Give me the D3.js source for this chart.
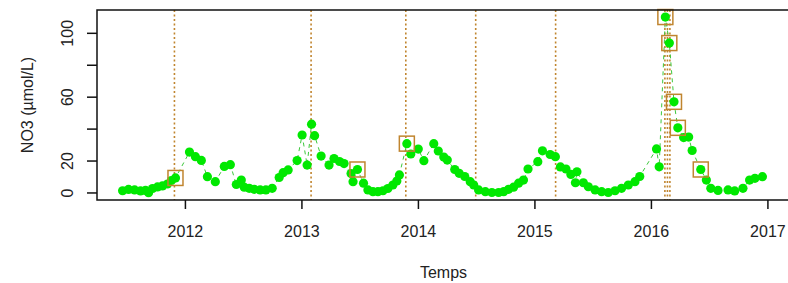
<!DOCTYPE html>
<html>
<head>
<meta charset="utf-8">
<script src="https://cdn.jsdelivr.net/npm/d3@7"></script>
<style>
    body { margin: 0; background: #fff; }
    svg { display: block; font-family: "Liberation Sans", Arial, sans-serif; }
</style>
</head>
<body>
<div id="chart"></div>
<script>
// sampling dates (decimal years) and NO3 values
const dates = [
    2011.465, 2011.516, 2011.568, 2011.619, 2011.662, 2011.688, 2011.722, 2011.765, 2011.807, 2011.850,
    2011.884, 2011.919, 2012.039, 2012.090, 2012.141, 2012.193, 2012.261, 2012.338, 2012.390, 2012.441,
    2012.484, 2012.509, 2012.552, 2012.595, 2012.646, 2012.695, 2012.749, 2012.809, 2012.843, 2012.886,
    2012.963, 2013.006, 2013.049, 2013.087, 2013.113, 2013.169, 2013.237, 2013.280, 2013.327, 2013.366,
    2013.426, 2013.443, 2013.481, 2013.533, 2013.571, 2013.614, 2013.657, 2013.700, 2013.742, 2013.785,
    2013.819, 2013.841, 2013.905, 2013.939, 2014.003, 2014.051, 2014.136, 2014.175, 2014.222, 2014.252,
    2014.316, 2014.354, 2014.402, 2014.449, 2014.479, 2014.521, 2014.579, 2014.635, 2014.693, 2014.736,
    2014.778, 2014.821, 2014.864, 2014.906, 2014.945, 2015.029, 2015.069, 2015.135, 2015.180, 2015.223,
    2015.271, 2015.313, 2015.352, 2015.365, 2015.420, 2015.463, 2015.521, 2015.577, 2015.634, 2015.692,
    2015.748, 2015.806, 2015.863, 2015.904, 2016.048, 2016.071, 2016.124, 2016.158, 2016.198, 2016.231,
    2016.281, 2016.324, 2016.354, 2016.428, 2016.476, 2016.514, 2016.576, 2016.662, 2016.719, 2016.790,
    2016.847, 2016.893, 2016.957
];
const no3 = [
    1.4, 2.2, 1.9, 1.3, 1.6, 0.2, 2.8, 3.8, 4.4, 5.6,
    7.8, 9.4, 25.6, 22.7, 20.4, 10.2, 7.1, 16.6, 17.7, 5.3,
    8.1, 3.6, 2.9, 2.3, 1.9, 1.9, 2.9, 9.7, 12.7, 14.4,
    20.3, 36.3, 17.5, 43.1, 35.9, 23.1, 17.5, 21.6, 19.7, 18.4,
    12.2, 7.1, 14.7, 6.1, 1.9, 0.8, 0.8, 1.4, 2.8, 5.0,
    7.5, 11.3, 30.9, 24.4, 27.5, 20.2, 30.9, 26.3, 22.5, 20.6,
    14.7, 12.3, 10.3, 7.1, 5.0, 1.9, 0.8, 0.3, 0.3, 0.8,
    2.3, 3.6, 6.1, 8.1, 15.0, 19.6, 26.4, 24.1, 22.7, 16.3,
    15.0, 11.6, 6.4, 13.3, 6.4, 3.9, 1.9, 0.8, 0.3, 1.4,
    2.9, 5.0, 7.1, 10.3, 27.6, 16.4, 110.2, 93.9, 57.1, 40.8,
    34.7, 35.0, 26.6, 14.7, 8.1, 2.9, 1.6, 1.9, 1.3, 2.9,
    8.1, 9.2, 10.2
];
// samples flagged with a square (indices into dates / no3)
const flagged = [11, 42, 52, 96, 97, 98, 99, 103];
// dotted vertical markers
const markerDates = [2011.910, 2013.083, 2013.896, 2014.496, 2015.182, 2016.120, 2016.142, 2016.163];

const xTicks = [2012, 2013, 2014, 2015, 2016, 2017];
const yTicks = [0, 20, 40, 60, 80, 100];
const yTickLabels = ["0", "20", "", "60", "", "100"];

const W = 788, H = 283;
const margin = { top: 10, right: 0, bottom: 83, left: 97 };
const width = W - margin.left - margin.right;
const height = H - margin.top - margin.bottom;

const green = "#00e800";
const brown = "#c0852f";
const fontSize = 16;

const svg = d3.select("#chart")
    .append("svg")
    .attr("width", W)
    .attr("height", H);

const g = svg.append("g")
    .attr("transform", `translate(${margin.left},${margin.top})`);

// R style 4% padding on both axes
const xr = d3.extent(dates);
const xpad = (xr[1] - xr[0]) * 0.04;
const xScale = d3.scaleLinear()
    .domain([xr[0] - xpad, xr[1] + xpad])
    .range([0, width]);

const yr = [0, d3.max(no3)];
const ypad = (yr[1] - yr[0]) * 0.04;
const yScale = d3.scaleLinear()
    .domain([yr[0] - ypad, yr[1] + ypad])
    .range([height, 0]);

const pts = dates.map((d, i) => ({ t: d, v: no3[i] }));

// dotted vertical markers
g.selectAll(".marker")
    .data(markerDates)
    .enter()
    .append("line")
    .attr("x1", d => xScale(d))
    .attr("x2", d => xScale(d))
    .attr("y1", 0)
    .attr("y2", height)
    .attr("stroke", brown)
    .attr("stroke-width", 1.6)
    .attr("stroke-dasharray", "2,2.5");

// dashed connecting line
const line = d3.line()
    .x(d => xScale(d.t))
    .y(d => yScale(d.v));

g.append("path")
    .datum(pts)
    .attr("d", line)
    .attr("fill", "none")
    .attr("stroke", "#3cc83c")
    .attr("stroke-width", 1)
    .attr("stroke-dasharray", "4,4");

g.selectAll(".pt")
    .data(pts)
    .enter()
    .append("circle")
    .attr("cx", d => xScale(d.t))
    .attr("cy", d => yScale(d.v))
    .attr("r", 4.6)
    .attr("fill", green);

g.selectAll(".flag")
    .data(flagged.map(i => pts[i]))
    .enter()
    .append("rect")
    .attr("x", d => xScale(d.t) - 7.5)
    .attr("y", d => yScale(d.v) - 7.5)
    .attr("width", 15)
    .attr("height", 15)
    .attr("fill", "none")
    .attr("stroke", brown)
    .attr("stroke-width", 1.5);

// box (right side falls outside the picture)
g.append("path")
    .attr("d", `M${width},0H0V${height}H${width}`)
    .attr("fill", "none")
    .attr("stroke", "#111")
    .attr("stroke-width", 1.5);

// x axis
const xAxis = g.append("g")
    .attr("transform", `translate(0,${height})`)
    .call(d3.axisBottom(xScale).tickValues(xTicks).tickFormat(d3.format("d")).tickSize(9).tickPadding(17));
xAxis.select(".domain").remove();
xAxis.selectAll("line").attr("stroke", "#111").attr("stroke-width", 1.5);
xAxis.selectAll("text")
    .style("font-size", fontSize + "px")
    .style("font-family", "Liberation Sans, Arial, sans-serif")
    .attr("fill", "#222");

// y axis, labels parallel to the axis
const yAxis = g.append("g");
yAxis.selectAll("line")
    .data(yTicks)
    .enter()
    .append("line")
    .attr("x1", -10)
    .attr("x2", 0)
    .attr("y1", d => yScale(d))
    .attr("y2", d => yScale(d))
    .attr("stroke", "#111")
    .attr("stroke-width", 1.5);
yAxis.selectAll("text")
    .data(yTicks)
    .enter()
    .append("text")
    .attr("transform", d => `translate(-24,${yScale(d)}) rotate(-90)`)
    .attr("text-anchor", "middle")
    .attr("font-size", fontSize)
    .attr("fill", "#222")
    .text((d, i) => yTickLabels[i]);

svg.append("text")
    .attr("x", margin.left + (W - margin.left) / 2 + 1)
    .attr("y", 278)
    .attr("text-anchor", "middle")
    .attr("font-size", fontSize)
    .attr("fill", "#222")
    .text("Temps");

svg.append("text")
    .attr("transform", `translate(33,${margin.top + height / 2}) rotate(-90)`)
    .attr("text-anchor", "middle")
    .attr("font-size", fontSize)
    .attr("fill", "#222")
    .text("NO3 (µmol/L)");
</script>
</body>
</html>
